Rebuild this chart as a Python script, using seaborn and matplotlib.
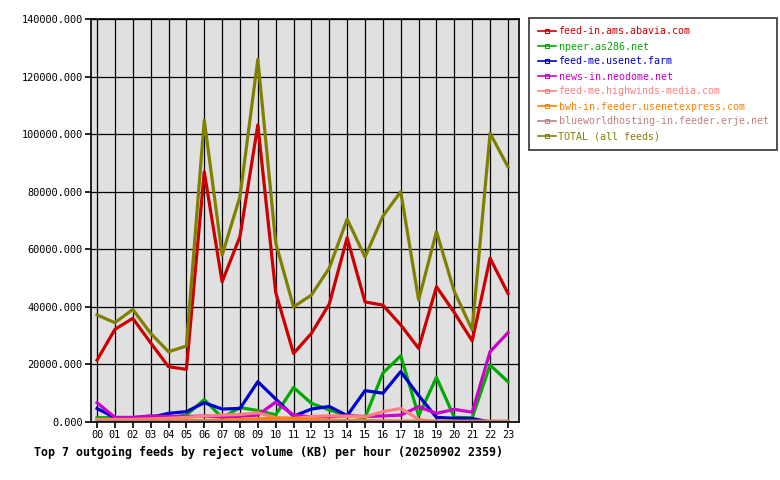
import numpy as np
import pandas as pd
import matplotlib
matplotlib.use("Agg")
import matplotlib.pyplot as plt
import seaborn as sns
from matplotlib.lines import Line2D

hours = [f"{h:02d}" for h in range(24)]

feeds = ["feed-in.ams.abavia.com", "npeer.as286.net", "feed-me.usenet.farm",
         "news-in.neodome.net", "feed-me.highwinds-media.com",
         "bwh-in.feeder.usenetexpress.com", "blueworldhosting-in.feeder.erje.net",
         "TOTAL (all feeds)"]
colors = ["#cc0000", "#00aa00", "#0000cc", "#cc00cc", "#ff8080", "#ff8000", "#c08080", "#808000"]

abavia = [21500, 32200, 36000, 27500, 19200, 18300, 86900, 48700, 64400, 103200, 45000, 23800,
          30800, 41000, 64000, 41700, 40600, 33700, 25600, 47000, 38000, 28200, 56900, 44700]
npeer = [1500, 1500, 1500, 2100, 1500, 2400, 7800, 1500, 5000, 4000, 2500, 12000,
         6500, 4200, 2200, 1500, 17000, 23000, 2200, 15500, 1600, 1500, 19800, 14000]
usenetfarm = [4700, 1500, 1300, 1600, 3000, 3600, 6700, 4500, 4700, 14000, 8000, 2000,
              4500, 5400, 2200, 10900, 10000, 17500, 9200, 1600, 1300, 1200, 0, 0]
neodome = [6700, 1600, 1600, 2100, 1900, 1900, 2100, 1700, 2000, 2400, 6900, 2400,
           1800, 1800, 2200, 1900, 2100, 2400, 5300, 3000, 4400, 3400, 24400, 31000]
highwinds = [900, 900, 900, 1100, 1300, 1600, 2100, 2400, 2600, 3200, 1500, 1200,
             1900, 2200, 2000, 1800, 3600, 4700, 900, 0, 0, 0, 0, 0]
bwh = [300, 300, 300, 400, 400, 500, 500, 600, 900, 1100, 1300, 1300,
       800, 600, 500, 500, 400, 300, 300, 300, 300, 300, 300, 300]
blueworld = [500, 500, 500, 500, 500, 500, 500, 500, 500, 500, 500, 500,
             500, 500, 500, 500, 500, 500, 500, 500, 500, 500, 500, 500]
total = [37200, 34500, 39100, 30800, 24400, 26400, 104900, 58000, 78300, 126000, 62200, 40000,
         44100, 53500, 70500, 57300, 71500, 80000, 42400, 66100, 45300, 32000, 100300, 88700]

series = [abavia, npeer, usenetfarm, neodome, highwinds, bwh, blueworld, total]

df = pd.DataFrame({
    "hour": np.tile(np.arange(24), len(feeds)),
    "value": np.concatenate(series),
    "feed": np.repeat(feeds, 24),
})

plt.rcParams["font.family"] = ["DejaVu Sans Mono"]

fig = plt.figure(figsize=(7.8, 4.8), dpi=100)
ax = fig.add_axes([91/780, 1-422/480, (519-91)/780, (422-19)/480])
ax.set_facecolor("#e0e0e0")

sns.lineplot(data=df, x="hour", y="value", hue="feed", hue_order=feeds,
             palette=dict(zip(feeds, colors)), linewidth=2.3, legend=False, ax=ax)

ax.set_xlim(-0.34, 23.62)
ax.set_ylim(0, 140000)
ax.set_xticks(range(24))
ax.set_xticklabels(hours)
ax.set_yticks(range(0, 140001, 20000))
ax.yaxis.set_major_formatter(matplotlib.ticker.FuncFormatter(lambda v, p: f"{v:.3f}"))
ax.tick_params(labelsize=7.4, length=4, width=1.2, color="black", pad=2)
ax.grid(True, color="black", linewidth=0.9)
ax.set_axisbelow(True)
for s in ax.spines.values():
    s.set_linewidth(1.2)
ax.set_xlabel("")
ax.set_ylabel("")

handles = [Line2D([0], [0], color=c, linewidth=1.2, marker="s", markersize=3,
                  markerfacecolor="none", markeredgewidth=0.8) for c in colors]
leg = fig.legend(handles, feeds, loc="upper left", bbox_to_anchor=(529/780, 1-18/480),
                 fontsize=7.2, frameon=True, fancybox=False, edgecolor="black",
                 handlelength=1.8, handletextpad=0.3, labelspacing=0.5,
                 borderpad=0.85, borderaxespad=0)
leg.get_frame().set_linewidth(1.2)
for t, c in zip(leg.get_texts(), colors):
    t.set_color(c)

fig.text(268/780, 1-452/480, "Top 7 outgoing feeds by reject volume (KB) per hour (20250902 2359)",
         ha="center", va="center", fontsize=8.4, fontweight="bold")

fig.savefig("out.png", dpi=100)
